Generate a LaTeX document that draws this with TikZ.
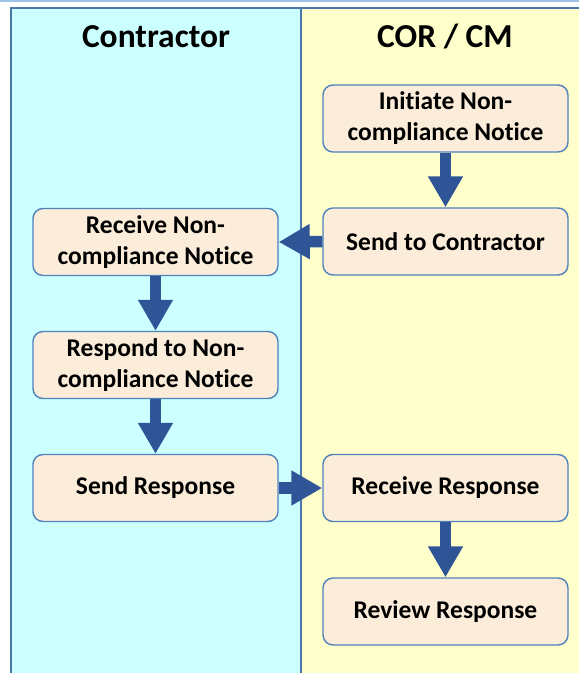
\documentclass[tikz,border=0pt]{standalone}
\usepackage{fontspec}
\setmainfont{Carlito}[Ligatures={NoCommon}]
\usetikzlibrary{arrows.meta,calc}

\definecolor{lanecyan}{RGB}{204,255,255}
\definecolor{laneyellow}{RGB}{255,255,204}
\definecolor{laneedge}{RGB}{74,118,168}
\definecolor{topline}{RGB}{157,195,230}
\definecolor{boxfill}{RGB}{251,237,217}
\definecolor{boxedge}{RGB}{79,129,189}
\definecolor{flowblue}{RGB}{47,85,151}

\tikzset{
  taskbox/.style={draw=boxedge, line width=1.4pt, fill=boxfill,
    rounded corners=10pt, minimum width=245pt, minimum height=67pt,
    align=center, inner sep=0pt,
    font=\bfseries\fontsize{25.5}{31}\selectfont},
  lanetitle/.style={anchor=base, inner sep=0pt,
    font=\bfseries\fontsize{33.5}{36}\selectfont},
  flow/.style={draw=flowblue, line width=11.5pt,
    -{Triangle[width=33pt,length=31pt]}}
}

\begin{document}
\begin{tikzpicture}[x=1pt,y=-1pt]
  \useasboundingbox (0,0) rectangle (579,673);

  % swimlanes
  \fill[lanecyan] (11,8) rectangle (301,690);
  \fill[laneyellow] (301,8) rectangle (600,690);
  \draw[topline, line width=1.5pt] (-5,1) -- (600,1);
  \draw[laneedge, line width=2pt] (600,8) -- (11,8) -- (11,690);
  \draw[laneedge, line width=2pt] (301,8) -- (301,690);

  % lane headings
  \node[lanetitle] (hcon) at (156,47) {Contractor};
  \node[lanetitle] (hcor) at (445,47) {COR / CM};

  % tasks
  \node[taskbox] (init) at (445.5,118.5) {Initiate Non-\\compliance Notice};
  \node[taskbox] (stc)  at (445.5,241.5) {Send to Contractor};
  \node[taskbox] (rnc)  at (155.5,242)   {Receive Non-\\compliance Notice};
  \node[taskbox] (resp) at (155.5,365)   {Respond to Non-\\compliance Notice};
  \node[taskbox] (sr)   at (155.5,488)   {Send Response};
  \node[taskbox] (rr)   at (445.5,488)   {Receive Response};
  \node[taskbox] (rev)  at (445.5,611.5) {Review Response};

  % flow arrows
  \draw[flow] (init.south) -- (stc.north);
  \draw[flow] (stc.west) -- (rnc.east);
  \draw[flow] (rnc.south) -- (resp.north);
  \draw[flow] (resp.south) -- (sr.north);
  \draw[flow] (sr.east) -- (rr.west);
  \draw[flow] (rr.south) -- (rev.north);
\end{tikzpicture}
\end{document}
